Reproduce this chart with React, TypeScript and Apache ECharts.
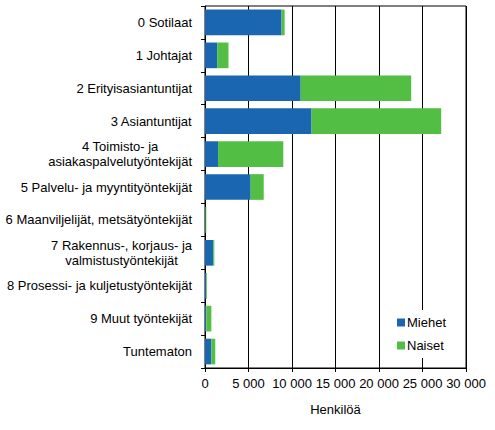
import * as echarts from "echarts";
import React, { useEffect, useRef } from "react";

const categories = [
  "0 Sotilaat",
  "1 Johtajat",
  "2 Erityisasiantuntijat",
  "3 Asiantuntijat",
  "4 Toimisto- ja\nasiakaspalvelutyöntekijät",
  "5 Palvelu- ja myyntityöntekijät",
  "6 Maanviljelijät, metsätyöntekijät",
  "7 Rakennus-, korjaus- ja\nvalmistustyöntekijät",
  "8 Prosessi- ja kuljetustyöntekijät",
  "9 Muut työntekijät",
  "Tuntematon",
];

const men = [8800, 1400, 11000, 12250, 1500, 5250, 50, 950, 150, 150, 730];
const women = [350, 1300, 12700, 14900, 7500, 1500, 100, 120, 80, 580, 450];

const FONT = "'Liberation Sans', Arial, sans-serif";

const formatThousands = (v: number) =>
  String(v).replace(/\B(?=(\d{3})+(?!\d))/g, " ");

const App: React.FC = () => {
  const chartRef = useRef<HTMLDivElement | null>(null);

  useEffect(() => {
    document.body.style.margin = "0";
    if (!chartRef.current) return;
    const chart = echarts.init(chartRef.current, undefined, { renderer: "svg" });

    const option: echarts.EChartsOption = {
      animation: false,
      textStyle: { fontFamily: FONT },
      grid: {
        left: 205,
        right: 29,
        top: 6,
        bottom: 62,
        show: true,
        borderColor: "#000",
        borderWidth: 1,
      },
      legend: {
        data: ["Miehet", "Naiset"],
        orient: "vertical",
        left: 392,
        top: 310,
        padding: [6, 8, 6, 5],
        itemGap: 10,
        itemWidth: 8,
        itemHeight: 8,
        icon: "rect",
        backgroundColor: "#fff",
        textStyle: { fontSize: 13, color: "#000", fontFamily: FONT, padding: [0, 0, 0, -3] },
      },
      xAxis: {
        type: "value",
        min: 0,
        max: 30000,
        interval: 5000,
        name: "Henkilöä",
        nameLocation: "middle",
        nameGap: 35,
        nameTextStyle: { fontSize: 13, color: "#000", fontFamily: FONT },
        axisLine: { show: true, lineStyle: { color: "#000", width: 1 } },
        axisTick: { show: true, length: 4, lineStyle: { color: "#000" } },
        axisLabel: {
          fontSize: 13,
          color: "#000",
          fontFamily: FONT,
          margin: 9,
          formatter: (v: number) => formatThousands(v),
        },
        splitLine: { show: true, lineStyle: { color: "#000", width: 1 } },
      },
      yAxis: {
        type: "category",
        inverse: true,
        data: categories,
        axisLine: { show: true, lineStyle: { color: "#000", width: 1 } },
        axisTick: { show: true, length: 4, lineStyle: { color: "#000" } },
        axisLabel: {
          fontSize: 13,
          color: "#000",
          fontFamily: FONT,
          margin: 13,
          lineHeight: 15,
          formatter: (v: string) =>
            v
              .split("\n")
              .map((line) => `{c|${line}}`)
              .join("\n"),
          rich: {
            c: { align: "center", fontSize: 13, color: "#000", fontFamily: FONT, lineHeight: 15 },
          },
        },
        splitLine: { show: false },
      },
      series: [
        {
          name: "Miehet",
          type: "bar",
          stack: "total",
          data: men,
          barCategoryGap: "22%",
          itemStyle: { color: "#1B66B1" },
        },
        {
          name: "Naiset",
          type: "bar",
          stack: "total",
          data: women,
          barCategoryGap: "22%",
          itemStyle: { color: "#52BF44" },
        },
      ],
    };

    chart.setOption(option);

    return () => {
      chart.dispose();
    };
  }, []);

  return <div ref={chartRef} style={{ width: "495px", height: "430px" }} />;
};

export default App;
